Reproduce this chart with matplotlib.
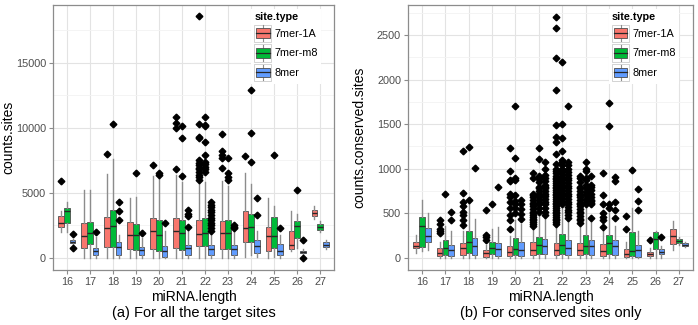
import matplotlib
matplotlib.use('Agg')
import matplotlib.pyplot as plt
from matplotlib.legend_handler import HandlerBase
from matplotlib.patches import Rectangle, Patch
from matplotlib.lines import Line2D
from matplotlib.ticker import MultipleLocator

plt.rcParams['font.family'] = ['Liberation Sans', 'DejaVu Sans']

lengths = [16, 17, 18, 19, 20, 21, 22, 23, 24, 25, 26, 27]
site_types = ['7mer-1A', '7mer-m8', '8mer']
colors = ['#F8766D', '#00BA38', '#619CFF']

# ---- (a) all target sites ----
all_lo = {
    '7mer-1A': [2000, 0, 0, 0, 0, 0, 0, 0, 100, 0, 500, 3000],
    '7mer-m8': [2000, 0, 0, 0, 0, 0, 0, 0, 200, 100, 800, 2000],
    '8mer':    [1100, 0, 0, 0, 0, 0, 0, 0, 100, 0, 300, 700],
}
all_q1 = {
    '7mer-1A': [2350, 800, 870, 700, 700, 750, 900, 650, 1200, 500, 700, 3200],
    '7mer-m8': [2670, 1100, 870, 600, 500, 600, 950, 700, 1200, 800, 1500, 2150],
    '8mer':    [1180, 250, 200, 200, 100, 200, 250, 200, 400, 200, 350, 850],
}
all_med = {
    '7mer-1A': [2650, 1700, 2300, 1800, 2100, 2100, 1850, 1950, 2300, 1700, 1000, 3450],
    '7mer-m8': [3600, 1920, 2430, 1800, 1800, 1900, 1900, 1950, 2400, 1650, 2450, 2400],
    '8mer':    [1250, 500, 820, 600, 550, 750, 650, 700, 900, 550, 450, 1000],
}
all_q3 = {
    '7mer-1A': [3250, 2700, 3150, 2750, 3100, 3100, 2900, 2850, 3600, 2400, 2100, 3700],
    '7mer-m8': [3850, 2750, 3700, 2600, 2950, 2900, 3050, 2900, 3400, 3150, 2800, 2600],
    '8mer':    [1350, 800, 1200, 850, 950, 1000, 1000, 1000, 1400, 1050, 550, 1200],
}
all_hi = {
    '7mer-1A': [3600, 5250, 6450, 4600, 6300, 6400, 5900, 5900, 6500, 4600, 3600, 4000],
    '7mer-m8': [4300, 5200, 7600, 4700, 6400, 5800, 5800, 5500, 5700, 4000, 3400, 2800],
    '8mer':    [1450, 1600, 1800, 1500, 2100, 2100, 2000, 2200, 2100, 1800, 700, 1400],
}
all_out = {
    '7mer-1A': [[5900], [], [7950], [], [7100], [10800, 10400, 10000, 6800],
                [18600, 10300, 9300, 9200, 7500, 7300, 7100, 6900, 6800, 6600, 6400, 6200, 5950],
                [9500, 8200, 7900, 7700, 6900], [7800], [], [], []],
    '7mer-m8': [[], [], [10300], [6550], [6500, 6400], [10100, 9200, 6300],
                [10800, 10200, 10100, 8900, 7900, 7400, 7200, 7000, 6800, 6600],
                [7700, 6500, 6200, 6000], [12900, 9600, 7400], [7900], [5200], []],
    '8mer':    [[1850, 750], [2000], [4300, 3600, 2900], [1950], [2700], [3700, 3400, 3200, 2400],
                [4300, 4100, 3900, 3700, 3500, 3300, 3100, 2900, 2700, 2500, 2300, 2100],
                [2500, 2400, 2300], [4600, 3300], [2300], [1400, 0], []],
}

# ---- (b) conserved sites only ----
cons_lo = {
    '7mer-1A': [60, 0, 0, 0, 0, 0, 0, 0, 0, 0, 0, 90],
    '7mer-m8': [75, 0, 0, 0, 0, 0, 0, 0, 0, 0, 0, 150],
    '8mer':    [90, 0, 0, 0, 0, 0, 0, 0, 0, 0, 0, 120],
}
cons_q1 = {
    '7mer-1A': [110, 20, 30, 10, 20, 30, 30, 30, 20, 10, 20, 160],
    '7mer-m8': [120, 30, 50, 40, 30, 40, 40, 40, 40, 20, 100, 170],
    '8mer':    [180, 20, 30, 20, 20, 40, 30, 30, 30, 10, 40, 130],
}
cons_med = {
    '7mer-1A': [137, 60, 110, 50, 70, 90, 90, 90, 80, 40, 40, 250],
    '7mer-m8': [360, 110, 180, 110, 100, 140, 150, 130, 170, 80, 210, 190],
    '8mer':    [250, 90, 130, 100, 90, 130, 110, 130, 130, 90, 70, 150],
}
cons_q3 = {
    '7mer-1A': [180, 110, 170, 90, 130, 180, 170, 170, 160, 100, 70, 330],
    '7mer-m8': [460, 200, 300, 180, 220, 240, 270, 260, 260, 290, 290, 210],
    '8mer':    [340, 150, 220, 170, 180, 210, 200, 200, 200, 140, 100, 170],
}
cons_hi = {
    '7mer-1A': [260, 180, 300, 150, 250, 340, 360, 360, 300, 180, 110, 410],
    '7mer-m8': [655, 360, 600, 320, 420, 500, 600, 560, 500, 560, 300, 230],
    '8mer':    [500, 300, 440, 350, 380, 450, 420, 420, 360, 300, 130, 180],
}
cons_out = {
    '7mer-1A': [[], [420, 380, 330, 300, 280], [1200, 730, 630, 580, 520, 480, 420, 370],
                [540, 260, 240, 200], [1230, 970, 870, 860, 720, 680, 630, 560, 480, 430, 320],
                [950, 900, 720, 700, 680, 650, 620, 600, 580, 550, 520, 500, 480, 460, 440, 420, 400, 380, 360],
                [2700, 2580, 2240, 1880, 1490, 1360, 1300, 1160, 1050, 1000, 980, 950, 920, 900, 880, 860,
                 840, 820, 800, 780, 760, 740, 720, 700, 680, 660, 640, 620, 600, 580, 560, 540, 520, 500,
                 480, 460, 440, 420, 400, 380],
                [920, 900, 850, 800, 780, 750, 720, 700, 680, 650, 620, 600, 580, 550, 520, 500, 470, 440, 420, 390],
                [950, 700, 610, 500, 460, 420, 350], [470, 330], [200], []],
    '7mer-m8': [[], [720], [1240, 650], [610], [1700, 1120, 900, 870, 700, 640, 600, 560, 500],
                [1230, 1110, 920, 900, 880, 850, 800, 780, 750, 720, 700, 680, 650, 620, 600, 560, 520],
                [2200, 1500, 1340, 1200, 1100, 1070, 1040, 1000, 970, 940, 910, 880, 850, 820, 790, 760,
                 730, 700, 670, 640, 610],
                [1080, 1000, 980, 900, 870, 820, 780, 740, 700, 660, 630, 600],
                [1740, 1480, 610, 560], [990], [], []],
    '8mer':    [[], [510, 420], [1010], [800], [650, 610, 550, 490, 440],
                [1070, 1000, 930, 900, 860, 820, 800, 780, 750, 720, 690, 660, 630, 600, 560, 520, 480],
                [1700, 1070, 1040, 1000, 960, 930, 900, 870, 840, 810, 780, 750, 720, 690, 660, 630, 600,
                 570, 540, 510, 480, 450],
                [920, 820, 800, 760, 720, 680, 650, 640, 620, 600, 450],
                [910, 860, 630, 540, 450], [770, 640, 540], [230], []],
}


class BoxKey(HandlerBase):
    def create_artists(self, legend, orig_handle, xdescent, ydescent, width, height, fontsize, trans):
        x0, y0 = -xdescent, -ydescent
        fc = orig_handle.get_facecolor()
        bg = Rectangle((x0, y0), width, height, facecolor='white', edgecolor='#cccccc', lw=0.6, transform=trans)
        wl = Line2D([x0 + width / 2] * 2, [y0 + 0.05 * height, y0 + 0.95 * height], color='#8c8c8c', lw=0.8, transform=trans)
        bx = Rectangle((x0 + 0.1 * width, y0 + 0.22 * height), 0.8 * width, 0.56 * height,
                       facecolor=fc, edgecolor='#4d4d4d', lw=0.6, transform=trans)
        md = Line2D([x0 + 0.1 * width, x0 + 0.9 * width], [y0 + height / 2] * 2, color='#262626', lw=0.9, transform=trans)
        return [bg, wl, bx, md]


def draw_panel(ax, lo, q1, med, q3, hi, out, ymin, ymax, major, ylabel, caption, ylab_x):
    offsets = [-0.25, 0.0, 0.25]
    for k, st in enumerate(site_types):
        stats = []
        for i in range(len(lengths)):
            stats.append(dict(med=med[st][i], q1=q1[st][i], q3=q3[st][i],
                              whislo=lo[st][i], whishi=hi[st][i], fliers=out[st][i]))
        pos = [x + offsets[k] for x in lengths]
        b = ax.bxp(stats, positions=pos, widths=0.24, patch_artist=True, showcaps=False,
                   boxprops=dict(edgecolor='#4d4d4d', linewidth=0.6),
                   whiskerprops=dict(color='#8c8c8c', linewidth=1.0),
                   medianprops=dict(color='#262626', linewidth=1.0),
                   flierprops=dict(marker='D', markersize=3.4, markerfacecolor='black',
                                   markeredgecolor='black', linestyle='none'),
                   zorder=3, manage_ticks=False)
        for p in b['boxes']:
            p.set_facecolor(colors[k])
    ax.set_xlim(15.4, 27.6)
    ax.set_ylim(ymin, ymax)
    ax.set_xticks(lengths)
    ax.set_xticklabels([str(x) for x in lengths])
    ax.yaxis.set_major_locator(MultipleLocator(major))
    ax.yaxis.set_minor_locator(MultipleLocator(major / 2))
    ax.grid(True, which='major', color='#e3e3e3', lw=0.8, zorder=0)
    ax.grid(True, which='minor', axis='y', color='#f3f3f3', lw=0.6, zorder=0)
    ax.set_axisbelow(True)
    for s in ax.spines.values():
        s.set_color('#8c8c8c')
        s.set_linewidth(0.9)
    ax.tick_params(axis='both', which='major', labelsize=7.8, labelcolor='#4d4d4d',
                   color='#8c8c8c', length=3, pad=2)
    ax.tick_params(axis='y', which='minor', length=0)
    ax.set_xlabel('miRNA.length', fontsize=10)
    ax.xaxis.set_label_coords(0.5, -0.077)
    ax.set_ylabel(ylabel, fontsize=10)
    ax.yaxis.set_label_coords(ylab_x, 0.5)
    handles = [Patch(facecolor=c) for c in colors]
    leg = ax.legend(handles, site_types, handler_map={Patch: BoxKey()}, loc='upper left',
                    bbox_to_anchor=(0.685, 1.005), fontsize=7.8, title='site.type',
                    title_fontproperties={'weight': 'bold', 'size': 7.8},
                    handlelength=1.6, handleheight=2.1, labelspacing=0.2, handletextpad=0.3,
                    borderpad=0.3, frameon=True, fancybox=False, framealpha=1,
                    facecolor='white', edgecolor='none', alignment='left')
    leg.set_zorder(5)
    ax.text(0.5, -0.163, caption, transform=ax.transAxes, ha='center', va='center', fontsize=10.5)


fig = plt.figure(figsize=(6.98, 3.25), dpi=100)
ax1 = fig.add_axes([53 / 698, 55 / 325, 281 / 698, 265 / 325])
ax2 = fig.add_axes([408 / 698, 55 / 325, 285 / 698, 265 / 325])

draw_panel(ax1, all_lo, all_q1, all_med, all_q3, all_hi, all_out, -925, 19425, 5000,
           'counts.sites', '(a) For all the target sites', -0.135)
draw_panel(ax2, cons_lo, cons_q1, cons_med, cons_q3, cons_hi, cons_out, -135, 2835, 500,
           'counts.conserved.sites', '(b) For conserved sites only', -0.145)

fig.savefig('out.png', dpi=100)
